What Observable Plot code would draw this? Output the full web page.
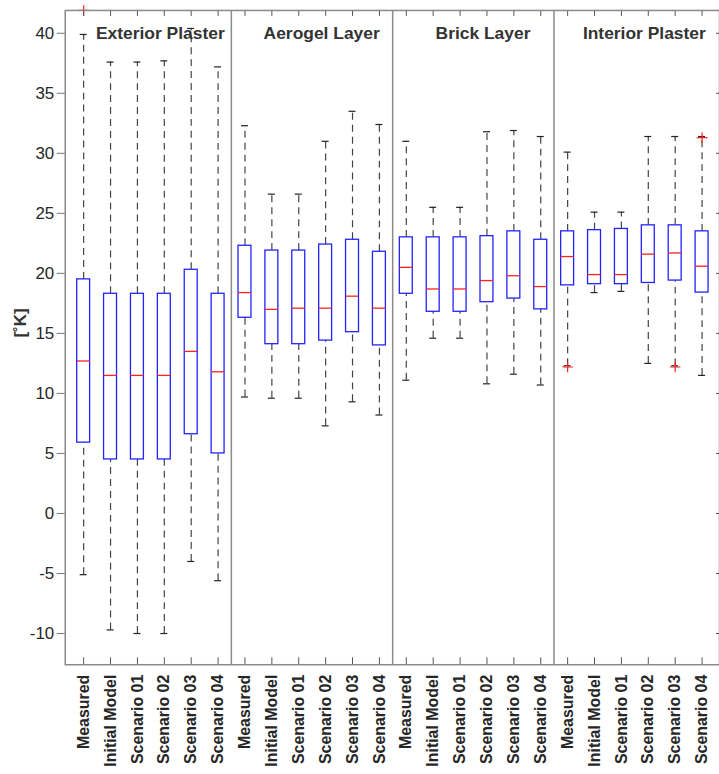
<!DOCTYPE html>
<html>
<head>
<meta charset="utf-8">
<script src="https://cdn.jsdelivr.net/npm/d3@7"></script>
<script src="https://cdn.jsdelivr.net/npm/@observablehq/plot@0.6"></script>
<style>
  html, body { margin: 0; padding: 0; background: #fff; }
  #chart { width: 719px; height: 774px; overflow: hidden; }
</style>
</head>
<body>
<div id="chart"></div>
<script>
const panels = ["Exterior Plaster", "Aerogel Layer", "Brick Layer", "Interior Plaster"];
const models = ["Measured", "Initial Model", "Scenario 01", "Scenario 02", "Scenario 03", "Scenario 04"];

// per panel, per model (order as in models)
const lowerWhisker = [
  [-5.1, -9.7, -10.0, -10.0, -4.0, -5.6],
  [9.7, 9.6, 9.6, 7.3, 9.3, 8.2],
  [11.1, 14.6, 14.6, 10.8, 11.6, 10.7],
  [12.3, 18.4, 18.5, 12.5, 12.3, 11.5]
];
const q1 = [
  [5.9, 4.5, 4.5, 4.5, 6.6, 5.0],
  [16.3, 14.1, 14.1, 14.4, 15.1, 14.0],
  [18.3, 16.8, 16.8, 17.6, 17.9, 17.0],
  [19.0, 19.1, 19.1, 19.2, 19.4, 18.4]
];
const median = [
  [12.7, 11.5, 11.5, 11.5, 13.5, 11.8],
  [18.4, 17.0, 17.1, 17.1, 18.1, 17.1],
  [20.5, 18.7, 18.7, 19.4, 19.8, 18.9],
  [21.4, 19.9, 19.9, 21.6, 21.7, 20.6]
];
const q3 = [
  [19.5, 18.3, 18.3, 18.3, 20.3, 18.3],
  [22.3, 21.9, 21.9, 22.4, 22.8, 21.8],
  [23.0, 23.0, 23.0, 23.1, 23.5, 22.8],
  [23.5, 23.6, 23.7, 24.0, 24.0, 23.5]
];
const upperWhisker = [
  [39.9, 37.6, 37.6, 37.7, 40.4, 37.2],
  [32.3, 26.6, 26.6, 31.0, 33.5, 32.4],
  [31.0, 25.5, 25.5, 31.8, 31.9, 31.4],
  [30.1, 25.1, 25.1, 31.4, 31.4, 31.4]
];
const outlierPanel = ["Exterior Plaster", "Interior Plaster", "Interior Plaster", "Interior Plaster"];
const outlierModel = ["Measured", "Measured", "Scenario 03", "Scenario 04"];
const outlierValue = [41.9, 12.2, 12.2, 31.3];

const yTicks = [-10, -5, 0, 5, 10, 15, 20, 25, 30, 35, 40];

// build table
const rows = [];
panels.forEach((p, i) => models.forEach((m, j) => rows.push({
  key: p + "|" + m, panel: p, model: m,
  lo: lowerWhisker[i][j], q1: q1[i][j], med: median[i][j], q3: q3[i][j], hi: upperWhisker[i][j]
})));
const outliers = outlierValue.map((v, i) => ({key: outlierPanel[i] + "|" + outlierModel[i], value: v}));
const keys = rows.map(d => d.key);

const W = 722, ML = 65, MR = 0;
const step = (W - ML - MR) / keys.length;
const textColor = "#262626";
const whiskerColor = "#444";

const chart = Plot.plot({
  width: W,
  height: 774,
  marginTop: 10,
  marginBottom: 107,
  marginLeft: ML,
  marginRight: MR,
  style: {fontFamily: "'Liberation Sans', Arial, sans-serif", color: textColor, background: "#fff"},
  x: {type: "band", domain: keys, padding: 0},
  y: {domain: [-12.6, 41.9]},
  marks: [
    // whiskers
    Plot.ruleX(rows, {x: "key", y1: "lo", y2: "q1", stroke: whiskerColor, strokeDasharray: "7,5", strokeWidth: 1.2}),
    Plot.ruleX(rows, {x: "key", y1: "q3", y2: "hi", stroke: whiskerColor, strokeDasharray: "7,5", strokeWidth: 1.2}),
    Plot.tickY(rows, {x: "key", y: "lo", stroke: "#222", strokeWidth: 1.2, insetLeft: 10, insetRight: 10}),
    Plot.tickY(rows, {x: "key", y: "hi", stroke: "#222", strokeWidth: 1.2, insetLeft: 10, insetRight: 10}),
    // boxes
    Plot.barY(rows, {x: "key", y1: "q1", y2: "q3", fill: "white", stroke: "#2222ff", strokeWidth: 1.3,
      insetLeft: 7, insetRight: 7}),
    Plot.tickY(rows, {x: "key", y: "med", stroke: "#ff2020", strokeWidth: 1.3, insetLeft: 7, insetRight: 7}),
    // outliers
    Plot.dot(outliers, {x: "key", y: "value", symbol: "plus", stroke: "#ff2020", r: 3.5, strokeWidth: 1.2}),
    // panel separators
    Plot.ruleX(panels.slice(1), {x: p => p + "|Measured", dx: -step / 2, stroke: "#8a8a8a", strokeWidth: 1.5}),
    // panel titles
    Plot.text(panels, {x: p => p + "|Scenario 02", text: d => d, frameAnchor: "top", lineAnchor: "middle",
      dy: 23, dx: -4, fontWeight: "bold", fontSize: 17.5, fill: "#333"}),
    Plot.frame({stroke: "#8a8a8a", strokeWidth: 1.5}),
    // axes
    Plot.axisY({ticks: yTicks, tickSize: 8, tickPadding: 3, fontSize: 17, stroke: "#777",
      tickFormat: d => String(d), label: null}),
    Plot.text(["[˚K]"], {text: d => d, frameAnchor: "left", dx: -45, rotate: -90, fontSize: 17,
      fontWeight: "bold", fill: "#333"}),
    Plot.axisY({anchor: "right", ticks: yTicks, tickSize: -4, tickFormat: () => "", label: null, stroke: "#555"}),
    Plot.axisX({anchor: "top", tickSize: -5, tickFormat: () => "", label: null, stroke: "#555"}),
    Plot.axisX({anchor: "bottom", tickSize: -7, tickFormat: () => "", label: null, stroke: "#555"}),
    Plot.axisX({anchor: "bottom", tickSize: 0, tickPadding: 10, tickRotate: -90, fontSize: 16, fontWeight: "bold",
      tickFormat: k => k.split("|")[1], label: null})
  ]
});
document.getElementById("chart").appendChild(chart);
</script>
</body>
</html>
